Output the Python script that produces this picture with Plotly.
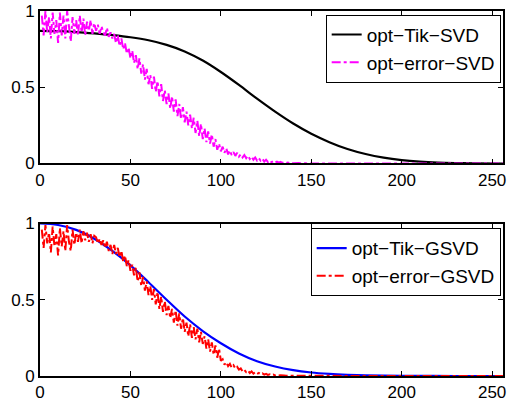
import plotly.graph_objects as go
from plotly.subplots import make_subplots

# smooth Tikhonov filter factors (control points)
tik_svd_x = [0, 10, 20, 30, 40, 50, 60, 70, 80, 90, 100, 110, 120, 130, 140, 150, 160, 170, 180, 190, 200, 210, 220, 230, 240, 256]
tik_svd_y = [0.870, 0.868, 0.862, 0.853, 0.842, 0.828, 0.808, 0.778, 0.735, 0.675, 0.600, 0.515, 0.425, 0.340,
             0.262, 0.195, 0.140, 0.095, 0.062, 0.038, 0.022, 0.012, 0.006, 0.003, 0.0015, 0.0]

tik_gsvd_x = [0, 10, 20, 30, 40, 50, 60, 70, 80, 90, 100, 110, 120, 130, 140, 150, 160, 170, 180, 200, 230, 256]
tik_gsvd_y = [1.0, 0.99, 0.958, 0.90, 0.82, 0.725, 0.615, 0.50, 0.39, 0.295, 0.215, 0.148, 0.097, 0.062, 0.038,
              0.023, 0.014, 0.008, 0.004, 0.001, 0.0, 0.0]

# noisy optimal-error filter factors, x = 1..150, then zero tail
err_svd_head = [
    0.97, 0.84, 1.00, 0.86, 0.96, 0.82, 0.99, 0.85, 0.94, 0.79,
    0.99, 0.84, 0.97, 0.82, 1.00, 0.88, 0.80, 0.96, 0.85, 0.94,
    0.84, 0.97, 0.86, 0.95, 0.84, 0.93, 0.87, 0.94, 0.85, 0.92,
    0.87, 0.91, 0.85, 0.90, 0.86, 0.84, 0.89, 0.83, 0.86, 0.82,
    0.85, 0.79, 0.84, 0.77, 0.82, 0.75, 0.79, 0.72, 0.76, 0.69,
    0.74, 0.66, 0.71, 0.62, 0.69, 0.59, 0.65, 0.55, 0.62, 0.52,
    0.58, 0.49, 0.57, 0.47, 0.54, 0.44, 0.52, 0.41, 0.48, 0.39,
    0.46, 0.36, 0.44, 0.34, 0.42, 0.31, 0.39, 0.29, 0.37, 0.27,
    0.34, 0.25, 0.32, 0.23, 0.30, 0.20, 0.28, 0.18, 0.26, 0.16,
    0.23, 0.14, 0.21, 0.13, 0.19, 0.11, 0.16, 0.09, 0.13, 0.08,
    0.11, 0.07, 0.10, 0.06, 0.085, 0.055, 0.075, 0.05, 0.07, 0.045,
    0.06, 0.04, 0.055, 0.035, 0.05, 0.03, 0.045, 0.025, 0.04, 0.02,
    0.035, 0.018, 0.03, 0.012, 0.025, 0.01, 0.02, 0.008, 0.015, 0.006,
    0.012, 0.005, 0.01, 0.004, 0.008, 0.003, 0.006, 0.002, 0.005, 0.002,
    0.004, 0.001, 0.003, 0.001, 0.002, 0.001, 0.001, 0.0, 0.001, 0.0,
]
err_gsvd_head = [
    0.96, 0.84, 0.99, 0.87, 0.94, 0.81, 0.98, 0.85, 0.93, 0.79,
    0.97, 0.85, 0.95, 0.82, 0.99, 0.88, 0.82, 0.96, 0.86, 0.94,
    0.88, 0.96, 0.87, 0.95, 0.89, 0.94, 0.88, 0.93, 0.87, 0.92,
    0.91, 0.87, 0.90, 0.86, 0.89, 0.84, 0.88, 0.82, 0.86, 0.80,
    0.86, 0.80, 0.84, 0.78, 0.82, 0.75, 0.79, 0.72, 0.76, 0.69,
    0.73, 0.66, 0.71, 0.62, 0.68, 0.59, 0.65, 0.56, 0.62, 0.53,
    0.59, 0.50, 0.57, 0.47, 0.55, 0.44, 0.52, 0.42, 0.49, 0.40,
    0.46, 0.38, 0.44, 0.35, 0.43, 0.33, 0.41, 0.31, 0.38, 0.29,
    0.35, 0.26, 0.34, 0.25, 0.32, 0.24, 0.31, 0.22, 0.29, 0.21,
    0.26, 0.18, 0.24, 0.16, 0.22, 0.14, 0.20, 0.12, 0.18, 0.10,
    0.11, 0.075, 0.09, 0.065, 0.08, 0.055, 0.07, 0.05, 0.06, 0.042,
    0.05, 0.03, 0.04, 0.025, 0.035, 0.02, 0.03, 0.016, 0.025, 0.014,
    0.02, 0.011, 0.017, 0.009, 0.014, 0.007, 0.011, 0.005, 0.009, 0.004,
    0.007, 0.003, 0.005, 0.002, 0.004, 0.002, 0.003, 0.001, 0.002, 0.001,
    0.002, 0.001, 0.001, 0.0, 0.001, 0.0, 0.0, 0.0, 0.0, 0.0,
]
err_tail = [0.0] * 106
err_x = list(range(1, 257))
err_svd_y = err_svd_head + err_tail
err_gsvd_y = err_gsvd_head + err_tail

x_ticks = [0, 50, 100, 150, 200, 250]
y_ticks = [0, 0.5, 1]
y_ticklabels = ["0", "0.5", "1"]

FONT = "Liberation Sans, Arial, Helvetica, sans-serif"

fig = make_subplots(rows=2, cols=1, vertical_spacing=0.1644)

fig.add_trace(go.Scatter(x=tik_svd_x, y=tik_svd_y, mode="lines", line=dict(color="black", width=2.2, shape="spline"),
                         name="opt\u2212Tik\u2212SVD", legend="legend"), row=1, col=1)
fig.add_trace(go.Scatter(x=err_x, y=err_svd_y, mode="lines", line=dict(color="#ff00ff", width=2, dash="dashdot"),
                         name="opt\u2212error\u2212SVD", legend="legend"), row=1, col=1)
fig.add_trace(go.Scatter(x=tik_gsvd_x, y=tik_gsvd_y, mode="lines", line=dict(color="#0000ff", width=2.2, shape="spline"),
                         name="opt\u2212Tik\u2212GSVD", legend="legend2"), row=2, col=1)
fig.add_trace(go.Scatter(x=err_x, y=err_gsvd_y, mode="lines", line=dict(color="#ff0000", width=2, dash="dashdot"),
                         name="opt\u2212error\u2212GSVD", legend="legend2"), row=2, col=1)

axis_common = dict(showline=True, linecolor="black", linewidth=1.6, mirror="allticks", ticks="inside",
                   ticklen=5, tickcolor="black", tickwidth=1, showgrid=False, zeroline=False, automargin=False,
                   ticklabeloverflow="allow",
                   tickfont=dict(family=FONT, size=17, color="black"))

for r in (1, 2):
    fig.update_xaxes(range=[0, 256], tickvals=x_ticks, row=r, col=1, **axis_common)
    fig.update_yaxes(range=[0, 1], tickvals=y_ticks, ticktext=y_ticklabels, row=r, col=1, **axis_common)

fig.update_layout(
    width=510, height=402,
    margin=dict(l=40, r=7, t=11, b=26),
    plot_bgcolor="white", paper_bgcolor="white",
    font=dict(family=FONT, size=17, color="black"),
    showlegend=True,
    legend=dict(x=0.995, y=0.99, xanchor="right", yanchor="top", bordercolor="black", borderwidth=1,
                bgcolor="white", font=dict(family=FONT, size=19), tracegroupgap=0, itemwidth=30),
    legend2=dict(x=0.995, y=0.405, xanchor="right", yanchor="top", bordercolor="black", borderwidth=1,
                 bgcolor="white", font=dict(family=FONT, size=19), tracegroupgap=0, itemwidth=30),
)

# remove the page's default body margin so the 510x402 figure fills the window exactly
fig.write_html("out.html", config={"displayModeBar": False},
               post_script="document.body.style.margin='0';document.body.style.overflow='hidden';")
